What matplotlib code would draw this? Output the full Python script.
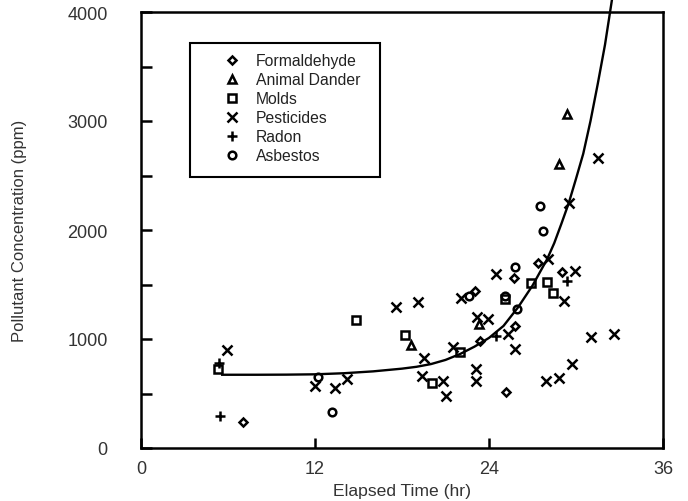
import numpy as np
import matplotlib
matplotlib.use("Agg")
import matplotlib.pyplot as plt
from matplotlib.patches import Rectangle

plt.rcParams['font.family'] = ['Liberation Sans', 'DejaVu Sans']

# scatter data (hours, ppm)
formaldehyde_x = [7.0, 23.0, 23.4, 25.8, 25.2, 25.7, 27.4, 29.0]
formaldehyde_y = [238, 1440, 985, 1120, 514, 1560, 1697, 1615]

dander_x = [18.6, 23.3, 28.8, 29.4]
dander_y = [945, 1135, 2606, 3064]

molds_x = [5.3, 14.8, 18.2, 20.1, 22.0, 25.1, 26.9, 28.0, 28.4]
molds_y = [725, 1174, 1037, 596, 880, 1370, 1510, 1523, 1422]

pest_x = [5.9, 12.0, 13.4, 14.2, 17.6, 19.1, 19.5, 19.4, 20.8, 21.0, 21.5,
          22.1, 23.1, 23.1, 23.2, 23.9, 24.5, 25.3, 25.8, 28.1, 29.2, 29.5,
          29.9, 31.5, 31.0, 32.6, 29.7, 27.9, 28.8]
pest_y = [902, 570, 550, 633, 1293, 1340, 826, 660, 615, 477, 927,
          1376, 725, 615, 1200, 1180, 1600, 1046, 908, 1734, 1349, 2247,
          1624, 2660, 1018, 1046, 771, 615, 642]

radon_x = [5.45, 5.4, 24.5, 29.4]
radon_y = [293, 780, 1030, 1532]

asbestos_x = [12.2, 13.2, 22.6, 25.1, 25.9, 25.8, 27.5, 27.7]
asbestos_y = [650, 330, 1390, 1390, 1275, 1660, 2220, 1990]

# fitted curve
curve_x = [5.6, 8, 10, 12, 14, 16, 18, 19, 20, 21, 22, 23, 24, 25, 26, 27,
           28, 28.5, 29, 29.5, 30, 30.5, 31, 31.5, 32, 32.5]
curve_y = [672, 672, 673, 676, 686, 703, 728, 745, 770, 808, 862, 930, 1010,
           1120, 1290, 1490, 1730, 1880, 2060, 2247, 2470, 2700, 3000, 3340,
           3700, 4130]

xticks = [0, 12, 24, 36]
yticks = [0, 1000, 2000, 3000, 4000]

fig = plt.figure(figsize=(6.88, 5.02), dpi=100)
ax = fig.add_axes([141 / 688, 53 / 502, 522 / 688, 436 / 502])

ax.plot(curve_x, curve_y, color='black', lw=1.7, clip_on=False, zorder=2)

mk = dict(color='black', linestyle='none', mfc='none', mew=1.8, zorder=3)
ax.plot(formaldehyde_x, formaldehyde_y, marker='D', ms=4.5, label='Formaldehyde', **mk)
ax.plot(dander_x, dander_y, marker='^', ms=6, label='Animal Dander', **mk)
ax.plot(molds_x, molds_y, marker='s', ms=6, label='Molds', **mk)
ax.plot(pest_x, pest_y, marker='x', ms=7, label='Pesticides', **mk)
ax.plot(radon_x, radon_y, marker='+', ms=7, label='Radon', **mk)
ax.plot(asbestos_x, asbestos_y, marker='o', ms=5.5, label='Asbestos', **mk)

ax.set_xlim(0, 36)
ax.set_ylim(0, 4000)
ax.set_xticks(xticks)
ax.set_yticks(yticks)
ax.set_yticks(np.arange(500, 4000, 1000), minor=True)
ax.tick_params(axis='both', which='both', direction='in', width=1.8,
               colors='black', labelcolor='#333333', labelsize=13)
ax.tick_params(axis='y', which='both', length=8, pad=24)
ax.tick_params(axis='x', length=7, pad=9)
for s in ax.spines.values():
    s.set_linewidth(1.8)

ax.set_xlabel('Elapsed Time (hr)', fontsize=12.6, color='#333333')
ax.set_ylabel('Pollutant Concentration (ppm)', fontsize=12, color='#333333')
ax.xaxis.set_label_coords(0.5, -0.08)
ax.yaxis.set_label_coords(-0.218, 0.5)

# legend frame drawn separately so the inner spacing can match
ax.add_patch(Rectangle((49 / 522, (449 - 178) / 436), 190 / 522, 134 / 436,
                       transform=ax.transAxes, fill=False, lw=1.5,
                       edgecolor='black', zorder=4))
leg = ax.legend(loc='upper left', bbox_to_anchor=(84 / 522, (449 - 54) / 436),
                frameon=False, fontsize=11.3, handlelength=0.95,
                handletextpad=1.0, labelspacing=0.26, borderpad=0,
                borderaxespad=0)
for t in leg.get_texts():
    t.set_color('#222222')

fig.savefig('out.png', dpi=100)
